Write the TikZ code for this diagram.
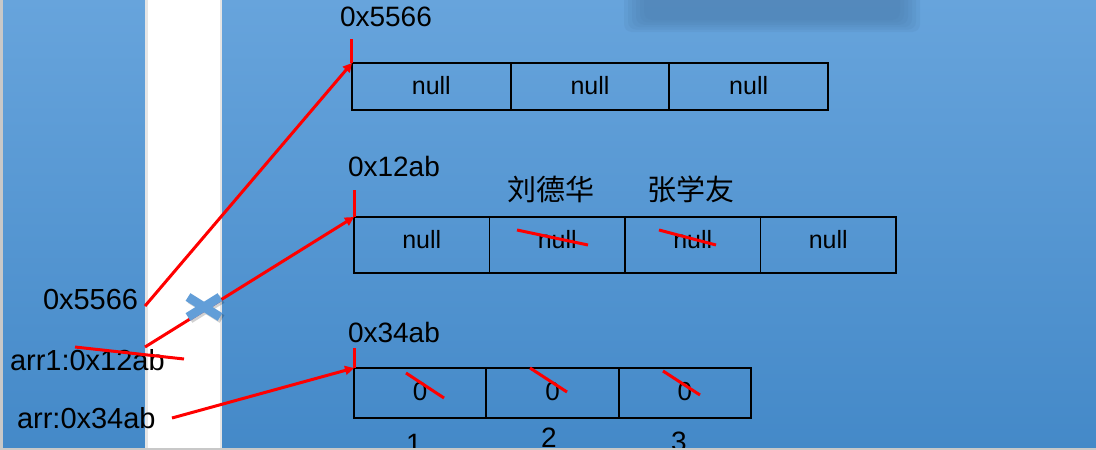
\documentclass[tikz,border=0pt]{standalone}
\usepackage{fontspec}
\setmainfont{Liberation Sans}
\newfontfamily\cjk{Noto Sans CJK SC}
\usetikzlibrary{arrows.meta}
\definecolor{paneltop}{RGB}{103,164,220}
\definecolor{panelbot}{RGB}{68,137,200}
\definecolor{redline}{RGB}{255,0,0}
\definecolor{crossblue}{RGB}{98,158,216}
\definecolor{blurblue}{RGB}{78,128,176}
\definecolor{edgegrey}{RGB}{200,200,200}
\begin{document}
\begin{tikzpicture}[x=1pt,y=-1pt,
  panel/.style={top color=paneltop,bottom color=panelbot,draw=none},
  cellbox/.style={draw=black,line width=1.7pt,rectangle,inner sep=0pt,outer sep=0pt},
  txt/.style={inner sep=0pt,outer sep=0pt,text=black},
  big/.style={txt,font=\fontsize{28}{30}\selectfont},
  side/.style={txt,font=\fontsize{29}{31}\selectfont},
  cellt/.style={txt,font=\fontsize{25}{27}\selectfont},
  zero/.style={txt,font=\fontsize{26}{28}\selectfont},
  cjkt/.style={txt,font=\cjk\fontsize{29}{31}\selectfont},
  ptr/.style={draw=redline,line width=3pt,-{Triangle[length=9pt,width=9pt]}},
  tick/.style={draw=redline,line width=3pt},
  strike/.style={draw=redline,line width=3pt}]
\useasboundingbox (0,0) rectangle (1096,450);
% background panels
\fill[edgegrey] (0,0) rectangle (3,450);
\path[panel] (3,0) rectangle (145,448);
\fill[white] (145,0) rectangle (222,448);
\fill[gray!20] (145,0) rectangle (147.5,448);
\fill[gray!20] (219.5,0) rectangle (222,448);
\path[panel] (222,0) rectangle (1096,448);
% blurred area
\foreach \d in {0,4,8,12,16,20}{
  \fill[blurblue,opacity=0.17,rounded corners=8pt] (624+\d,-10) rectangle (920-\d,32-\d*0.6);
}
% row 1
\node[cellbox,minimum width=158.67pt,minimum height=47pt] (r1c1) at (431.33,86.5) {};
\node[cellbox,minimum width=158.67pt,minimum height=47pt] (r1c2) at (590,86.5) {};
\node[cellbox,minimum width=158.67pt,minimum height=47pt] (r1c3) at (748.67,86.5) {};
\node[cellt] (t11) at (431.33,86) {null};
\node[cellt] (t12) at (590,86) {null};
\node[cellt] (t13) at (748.67,86) {null};
% row 2
\node[cellbox,minimum width=135.5pt,minimum height=56pt] (r2c1) at (421.75,245) {};
\node[cellbox,minimum width=135.5pt,minimum height=56pt] (r2c2) at (557.25,245) {};
\node[cellbox,minimum width=135.5pt,minimum height=56pt] (r2c3) at (692.75,245) {};
\node[cellbox,minimum width=135.5pt,minimum height=56pt] (r2c4) at (828.25,245) {};
\node[cellt] (t21) at (421.75,240) {null};
\node[cellt] (t22) at (557.25,240) {null};
\node[cellt] (t23) at (692.75,240) {null};
\node[cellt] (t24) at (828.25,240) {null};
% row 3
\node[cellbox,minimum width=132.33pt,minimum height=50pt] (r3c1) at (420.17,393) {};
\node[cellbox,minimum width=132.33pt,minimum height=50pt] (r3c2) at (552.5,393) {};
\node[cellbox,minimum width=132.33pt,minimum height=50pt] (r3c3) at (684.83,393) {};
\node[zero] (t31) at (420.17,392) {0};
\node[zero] (t32) at (552.5,392) {0};
\node[zero] (t33) at (684.83,392) {0};
% address labels
\node[big,anchor=base west] (a1) at (340,26) {0x5566};
\node[big,anchor=base west] (a2) at (348,176) {0x12ab};
\node[big,anchor=base west] (a3) at (348,342) {0x34ab};
\node[cjkt] (c1) at (551,189) {刘德华};
\node[cjkt] (c2) at (691,189) {张学友};
% index numbers
\node[big,anchor=base] (i1) at (414,453) {1};
\node[big,anchor=base] (i2) at (549,447) {2};
\node[big,anchor=base] (i3) at (679,451) {3};
% left labels
\node[side,anchor=base west] (l1) at (43,309) {0x5566};
\node[side,anchor=base west] (l2) at (10,370) {arr1:0x12ab};
\node[side,anchor=base west] (l3) at (17,428) {arr:0x34ab};
% ticks
\draw[tick] (r1c1.north west) -- ++(0,-24);
\draw[tick] (r2c1.north west) -- ++(0,-27);
\draw[tick] (r3c1.north west) -- ++(0,-20);
% pointers
\coordinate (s1) at (145,306);
\coordinate (s2) at (145,347);
\coordinate (s3) at (172,418);
\draw[ptr] (s1) -- (r1c1.north west);
\draw[ptr] (s2) -- (r2c1.north west);
\draw[ptr] (s3) -- (r3c1.north west);
% strike-throughs
\draw[strike] (75,347) -- (184,359);
\draw[strike] (517,230) -- (588,245);
\draw[strike] (659,230) -- (716,245);
\draw[strike] (406,373) -- (444,398);
\draw[strike] (530,368) -- (567,392);
\draw[strike] (663,371) -- (700,395);
% cross mark
\draw[black,opacity=0.18,line width=9pt] (190,299) -- (222,319) (190,319) -- (222,299);
\draw[crossblue,line width=9pt] (188,297) -- (220,317) (188,317) -- (220,297);
% bottom edge
\fill[edgegrey] (0,448) rectangle (1096,450);
\end{tikzpicture}
\end{document}
